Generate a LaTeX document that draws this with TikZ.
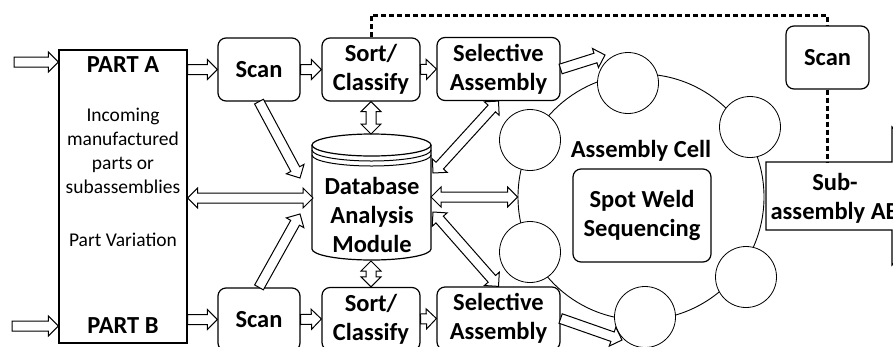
\documentclass[tikz,border=0pt]{standalone}
\usepackage{fontspec}
\setmainfont{Carlito}
\usetikzlibrary{calc}

\tikzset{
  stage/.style={draw, rounded corners=8pt, line width=1.2pt, align=center, inner sep=0pt,
    font=\bfseries\fontsize{24.5}{29}\selectfont},
  bigtxt/.style={align=center, inner sep=0pt, font=\bfseries\fontsize{24.5}{29}\selectfont},
  smalltxt/.style={align=center, inner sep=0pt, font=\fontsize{19.5}{24}\selectfont},
  station/.style={draw, circle, fill=white, line width=0.8pt, minimum size=61pt, inner sep=0pt},
  feedback/.style={line width=3pt, dash pattern=on 5pt off 3pt},
  oneway/.style={draw, fill=white, line width=1pt, to path={
      let \p1=(\tikztostart), \p2=(\tikztotarget),
          \n1={atan2(\y2-\y1,\x2-\x1)}, \n2={veclen(\x2-\x1,\y2-\y1)-10}
      in ($(\p1)+(\n1+90:5pt)$) -- ++(\n1:\n2) -- ++(\n1+90:5pt) -- (\p2)
         -- ($(\p1)+(\n1:\n2)+(\n1-90:10pt)$) -- ++(\n1+90:5pt)
         -- ($(\p1)+(\n1-90:5pt)$) -- cycle}},
  twoway/.style={draw, fill=white, line width=1pt, to path={
      let \p1=(\tikztostart), \p2=(\tikztotarget),
          \n1={atan2(\y2-\y1,\x2-\x1)}, \n2={veclen(\x2-\x1,\y2-\y1)-20}
      in (\p1) -- ($(\p1)+(\n1:10pt)+(\n1+90:10pt)$) -- ++(\n1-90:5pt) -- ++(\n1:\n2)
         -- ++(\n1+90:5pt) -- (\p2) -- ($(\p2)+(\n1:-10pt)+(\n1-90:10pt)$)
         -- ++(\n1+90:5pt) -- ++(\n1:-\n2) -- ++(\n1-90:5pt) -- cycle}},
}

\begin{document}
\begin{tikzpicture}[x=1pt, y=-1pt]
    \useasboundingbox (0,0) rectangle (893,346);

    % assembly cell and its stations
    \node[draw, circle, line width=0.9pt, minimum size=246pt] (cell) at (641,197) {};
    \begin{scope}[every node/.style={station}]
        \node (s1) at (628,83) {};
        \node (s2) at (750,127) {};
        \node (s3) at (530,140) {};
        \node (s4) at (530,252) {};
        \node (s5) at (645,317) {};
        \node (s6) at (746,277) {};
    \end{scope}
    \node[bigtxt] (celltxt) at (641,151) {Assembly Cell};
    \node[stage, minimum width=138pt, minimum height=93pt] (weld) at (642,215.5) {Spot Weld\\Sequencing};

    % sub-assembly leaving the cell
    \draw[line width=1.2pt, fill=white] (766,162) -- (892,162) -- (892,127) -- (961,196)
        -- (892,265) -- (892,230) -- (766,230) -- cycle;
    \node[bigtxt] (sub) at (835,198) {Sub-\\assembly AB};
    \coordinate (subtop) at (827.5,162);

    % incoming parts
    \node[draw, line width=1.2pt, minimum width=128pt, minimum height=293pt] (parts) at (123,196.5) {};
    \node[bigtxt] (partA) at (123,65) {PART A};
    \node[smalltxt] (incoming) at (123,151) {Incoming\\manufactured\\parts or\\subassemblies};
    \node[smalltxt] (variation) at (123,240) {Part Variation};
    \node[bigtxt] (partB) at (123,326) {PART B};

    % stations along both lines
    \begin{scope}[every node/.style={stage, minimum height=63pt}]
        \node[minimum width=82pt] (scanA) at (259,69.5) {Scan};
        \node[minimum width=98pt] (sortA) at (371,69.5) {Sort/\\Classify};
        \node[minimum width=123pt] (selA) at (498.5,69) {Selective\\Assembly};

        \node[minimum width=82pt] (scanB) at (259,319.5) {Scan};
        \node[minimum width=98pt] (sortB) at (371,319) {Sort/\\Classify};
        \node[minimum width=123pt] (selB) at (498.5,318.5) {Selective\\Assembly};

        \node[minimum width=83pt] (scanR) at (827.5,57.5) {Scan};
    \end{scope}

    % database
    \draw[line width=1.2pt, fill=white] (312,145) -- (312,249)
        arc[start angle=180, end angle=360, x radius=59.5pt, y radius=11pt] -- (431,145);
    \draw[line width=1.2pt] (371.5,145) ellipse[x radius=59.5pt, y radius=11pt];
    \foreach \d in {5,10}
        \draw[line width=1pt] (312,145+\d) arc[start angle=180, end angle=360, x radius=59.5pt, y radius=11pt];
    \node[bigtxt] (db) at (372,215) {Database\\Analysis\\Module};

    \coordinate (inA) at (14,62);
    \coordinate (inB) at (12,326);
    \coordinate (dbA) at (300,178);
    \coordinate (dbB) at (300,214);
    \coordinate (dbW) at (313,198);
    \coordinate (dbE) at (431,197);
    \coordinate (dbtop) at (371,134);
    \coordinate (dbbot) at (371,261);
    \coordinate (dbNE) at (433,173);
    \coordinate (dbSE) at (433,212);
    \coordinate (s1in) at (605,55);
    \coordinate (s5in) at (622,340);

    % flow of parts
    \begin{scope}[every edge/.style={oneway}]
        \path (inA) edge (inA -| parts.west);
        \path (inB) edge (inB -| parts.west);
        \path (scanA.west -| parts.east) edge (scanA.west);
        \path (scanB.west -| parts.east) edge (scanB.west);
        \path (scanA.east) edge (sortA.west);
        \path (sortA.east) edge (selA.west);
        \path (scanB.east) edge (sortB.west);
        \path (sortB.east) edge (selB.west);
        \path (selA.east) edge (s1in);
        \path (selB.east) edge (s5in);
        \path (scanA.south) edge (dbA);
        \path (scanB.north) edge (dbB);
    \end{scope}

    % data exchange
    \begin{scope}[every edge/.style={twoway}]
        \path (dbW -| parts.east) edge (dbW);
        \path (sortA.south) edge (dbtop);
        \path (dbbot) edge (sortB.north);
        \path (dbNE) edge (selA.south);
        \path (dbSE) edge (selB.north);
        \path (dbE) edge (cell.west);
    \end{scope}

    % feedback scan
    \draw[feedback] (sortA.north) -- ++(0,-22) -| (scanR.north);
    \draw[feedback] (scanR.south) -- (subtop);
\end{tikzpicture}
\end{document}
